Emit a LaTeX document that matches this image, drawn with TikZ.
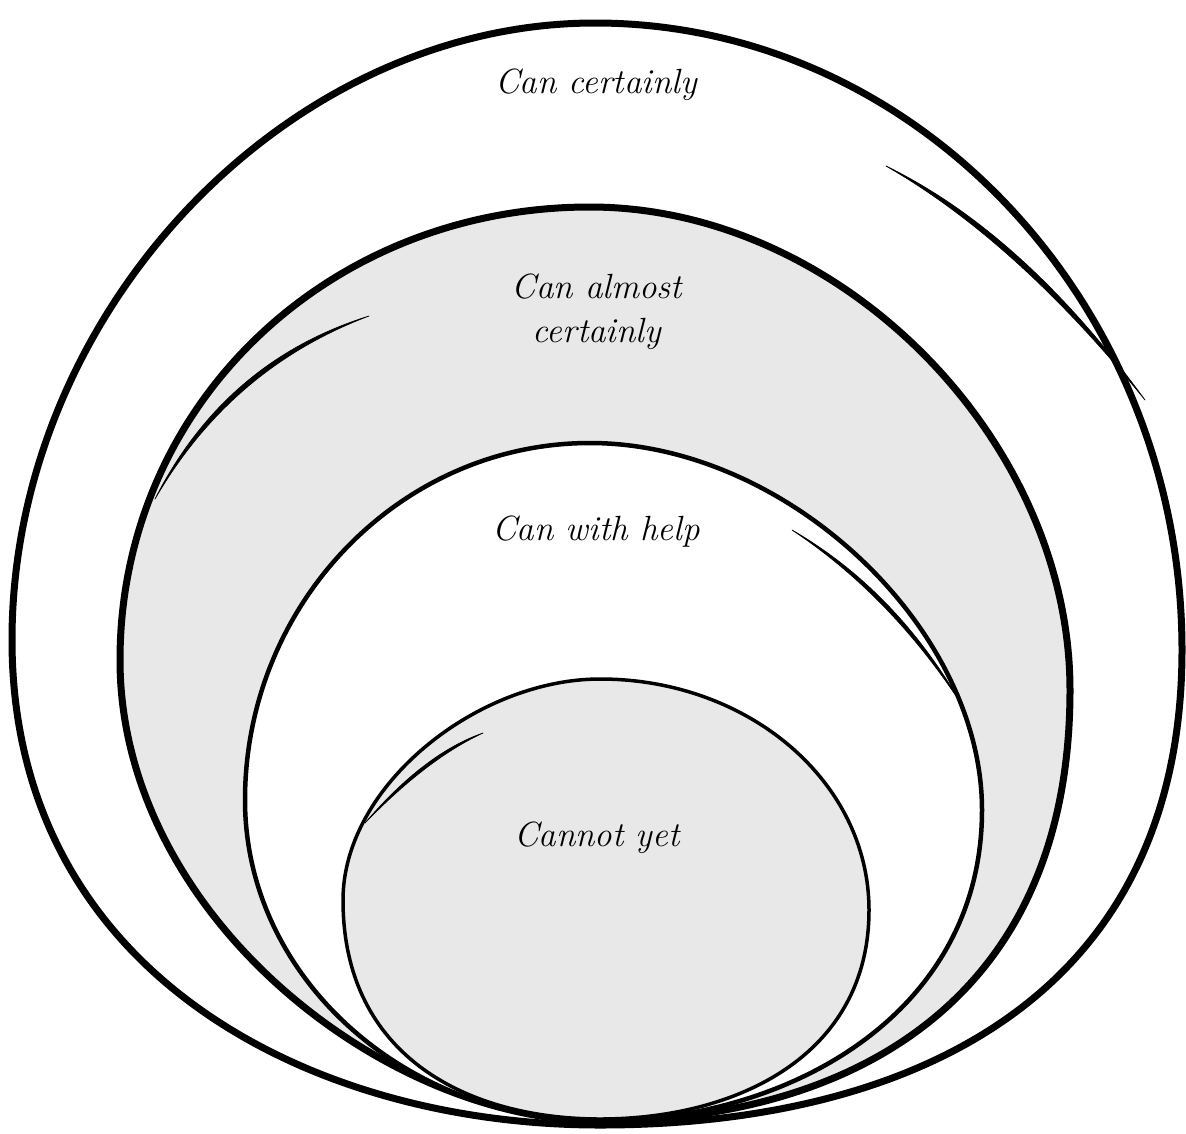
\documentclass[tikz,border=0pt]{standalone}
\usepackage{fontspec}
\definecolor{fillgray}{RGB}{232,232,232}
\tikzset{
  ring/.style={draw=black, line join=round},
  label/.style={font=\fontsize{35}{40}\selectfont\itshape, align=center, inner sep=0pt},
  flick/.style={fill=black, draw=black, line width=0.7pt, line join=round}
}
\begin{document}
\begin{tikzpicture}[x=1pt,y=-1pt]
\useasboundingbox (0,0) rectangle (1186,1133);
\fill[white] (0,0) rectangle (1186,1133);
% outer ring
\draw[ring, line width=7pt, fill=white]
  (595,23) .. controls (917,23) and (1182,305) .. (1182,650)
  .. controls (1182,992) and (919,1125) .. (600,1125)
  .. controls (306,1125) and (12,970) .. (12,640)
  .. controls (12,313) and (286,23) .. (595,23) -- cycle;
% second ring
\draw[ring, line width=7pt, fill=fillgray]
  (590,207) .. controls (840,207) and (1070,439) .. (1070,690)
  .. controls (1070,1013) and (835,1121) .. (600,1121)
  .. controls (384,1121) and (120,914) .. (120,660)
  .. controls (120,406) and (327,207) .. (590,207) -- cycle;
% third ring
\draw[ring, line width=4.5pt, fill=white]
  (590,443) .. controls (786,443) and (982,627) .. (982,810)
  .. controls (982,1012) and (791,1121) .. (600,1121)
  .. controls (405,1121) and (245,977) .. (245,800)
  .. controls (245,604) and (400,443) .. (590,443) -- cycle;
% fourth ring
\draw[ring, line width=3.5pt, fill=fillgray]
  (600,679) .. controls (749,679) and (869,782) .. (869,910)
  .. controls (869,1056) and (736,1119) .. (600,1119)
  .. controls (470,1119) and (343,1058) .. (343,900)
  .. controls (343,785) and (478,679) .. (600,679) -- cycle;
% flicks
\fill[flick] (886,166) .. controls (977.6,210.7) and (1064,288.7) .. (1145,400)
  .. controls (1059.4,293.9) and (973,215.9) .. (886,166) -- cycle;
\fill[flick] (369,316) .. controls (277,350.6) and (205.6,411.6) .. (155,499)
  .. controls (201.7,407) and (273,346) .. (369,316) -- cycle;
\fill[flick] (792,530) .. controls (861.1,569.9) and (917.8,628.3) .. (962,705)
  .. controls (914.2,631.7) and (857.5,573.4) .. (792,530) -- cycle;
\fill[flick] (483,733) .. controls (446.2,749.9) and (406.9,779.9) .. (365,823)
  .. controls (404.5,776.7) and (443.8,746.7) .. (483,733) -- cycle;
% labels
\node[label] (certain) at (596,85) {Can certainly};
\node[label] (almost) at (597,312) {Can almost\\[4pt]certainly};
\node[label] (help) at (596,532) {Can with help};
\node[label] (cannot) at (597,838) {Cannot yet};
\end{tikzpicture}
\end{document}
